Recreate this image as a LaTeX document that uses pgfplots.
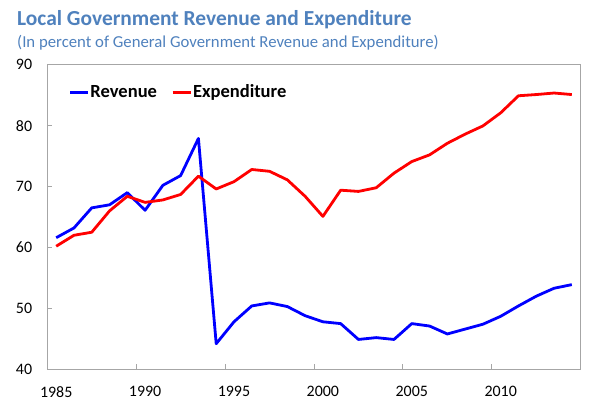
\documentclass[border=0pt]{standalone}
\usepackage{fontspec}
\setmainfont{Carlito}
\usepackage{pgfplots}
\pgfplotsset{compat=1.18}
\definecolor{ttl}{RGB}{79,129,189}
\definecolor{frm}{RGB}{166,166,166}
\definecolor{rev}{RGB}{0,0,255}
\definecolor{exp}{RGB}{255,0,0}
\begin{document}
\begin{tikzpicture}
\path[use as bounding box] (0,0) rectangle (591bp,415bp);
\node[anchor=base west, text=ttl, font=\fontsize{21.5}{24}\selectfont\bfseries, inner sep=0pt] at (17bp,389bp) {Local Government Revenue and Expenditure};
\node[anchor=base west, text=ttl, font=\fontsize{16.8}{19}\selectfont, inner sep=0pt] at (17bp,367bp) {(In percent of General Government Revenue and Expenditure)};
\begin{axis}[
  at={(47.3bp,45.7bp)}, anchor=south west,
  width=533.4bp, height=304.6bp, scale only axis,
  xmin=1984.5, xmax=2014.5, ymin=40, ymax=90,
  ytick={40,50,...,90},
  xtick={1985,1990,...,2010},
  minor xtick={1989.5,1994.5,1999.5,2004.5,2009.5},
  tick align=inside, tick pos=left,
  major tick length=5bp, minor tick length=5bp,
  axis line style={frm, line width=1bp},
  tick style={frm, line width=1bp},
  major x tick style={draw=none},
  /pgf/number format/assume math mode=true,
  /pgf/number format/1000 sep={},
  tick label style={font=\fontsize{16}{19}\selectfont, text=black},
  yticklabel style={inner sep=0pt, anchor=east, xshift=-15bp},
  xticklabel style={inner sep=0pt, anchor=north, yshift=-17bp},
  legend columns=-1,
  legend style={at={(axis description cs:0,1)}, anchor=north west,
    xshift=21bp, yshift=-20bp, draw=none, fill=none, inner sep=0pt,
    font=\fontsize{18.6}{22}\selectfont\bfseries,
    nodes={inner sep=0pt},
    column sep=0pt,
    /tikz/every odd column/.append style={column sep=1bp},
    /tikz/every even column/.append style={column sep=14bp}},
  legend image code/.code={\draw[#1, line width=3bp] (0bp,0bp) -- (18bp,0bp);},
]
\addplot[rev, line width=2.8bp, line join=round] coordinates {
(1985,61.6) (1986,63.2) (1987,66.5) (1988,67.0) (1989,69.0) (1990,66.1)
(1991,70.2) (1992,71.8) (1993,77.9) (1994,44.2) (1995,47.8) (1996,50.4)
(1997,50.9) (1998,50.3) (1999,48.8) (2000,47.8) (2001,47.5) (2002,44.9)
(2003,45.2) (2004,44.9) (2005,47.5) (2006,47.1) (2007,45.8) (2008,46.6)
(2009,47.4) (2010,48.7) (2011,50.4) (2012,52.0) (2013,53.3) (2014,53.9)
};
\addlegendentry{Revenue}
\addplot[exp, line width=2.8bp, line join=round] coordinates {
(1985,60.2) (1986,62.0) (1987,62.5) (1988,66.0) (1989,68.4) (1990,67.4)
(1991,67.8) (1992,68.7) (1993,71.7) (1994,69.6) (1995,70.8) (1996,72.8)
(1997,72.5) (1998,71.1) (1999,68.4) (2000,65.1) (2001,69.4) (2002,69.2)
(2003,69.8) (2004,72.2) (2005,74.1) (2006,75.2) (2007,77.1) (2008,78.6)
(2009,79.95) (2010,82.1) (2011,84.9) (2012,85.1) (2013,85.35) (2014,85.1)
};
\addlegendentry{Expenditure}
\end{axis}
\end{tikzpicture}
\end{document}
